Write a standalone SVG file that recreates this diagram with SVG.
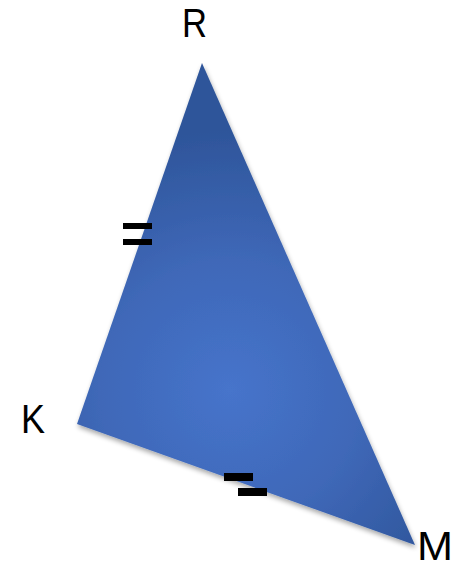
<svg xmlns="http://www.w3.org/2000/svg" width="463" height="564" viewBox="0 0 463 564">
<style>
.lbl{font-family:"Liberation Sans",Arial,sans-serif;font-size:40px;fill:#000}
.tick{fill:#000}
</style>
<defs>
<radialGradient id="g" cx="230" cy="390" r="260" gradientUnits="userSpaceOnUse">
<stop offset="0" stop-color="#4674CB"/>
<stop offset="0.5" stop-color="#3F68B8"/>
<stop offset="1" stop-color="#2E559A"/>
</radialGradient>
<filter id="sh" x="-10%" y="-10%" width="120%" height="120%">
<feGaussianBlur in="SourceAlpha" stdDeviation="2.5"/>
<feOffset dx="1" dy="3"/>
<feComponentTransfer><feFuncA type="linear" slope="0.35"/></feComponentTransfer>
<feMerge><feMergeNode/><feMergeNode in="SourceGraphic"/></feMerge>
</filter>
</defs>
<rect width="463" height="564" fill="#fff"/>
<g id="triangle">
<polygon points="202,63 77,424 415,545" fill="url(#g)" filter="url(#sh)"/>
</g>
<g id="ticks">
<rect class="tick" x="123" y="223" width="29" height="6"/>
<rect class="tick" x="123" y="239" width="29" height="6"/>
<rect class="tick" x="224" y="473" width="29" height="8"/>
<rect class="tick" x="238" y="488" width="29" height="8"/>
</g>
<g id="labels">
<text class="lbl" x="182" y="37" textLength="25" lengthAdjust="spacingAndGlyphs">R</text>
<text class="lbl" x="21" y="433" textLength="24" lengthAdjust="spacingAndGlyphs">K</text>
<text class="lbl" x="417" y="560" textLength="36" lengthAdjust="spacingAndGlyphs">M</text>
</g>
</svg>
